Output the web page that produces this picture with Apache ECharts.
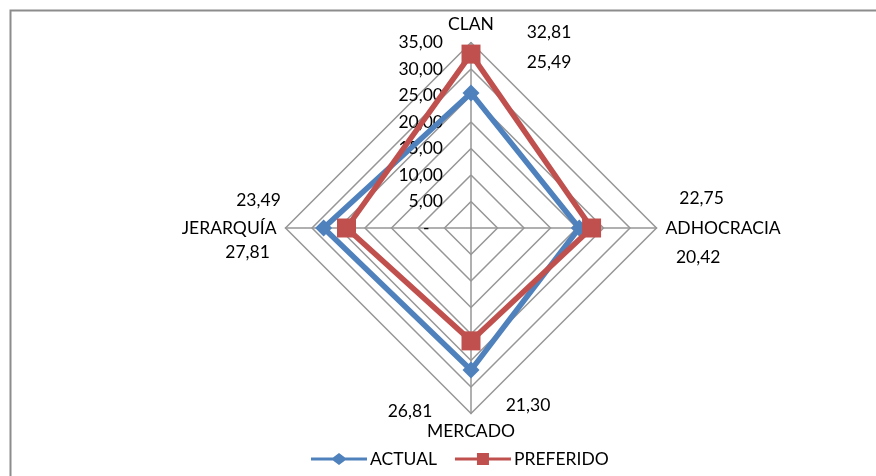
<!DOCTYPE html>
<html>
<head>
<meta charset="utf-8">
<script src="https://cdn.jsdelivr.net/npm/echarts@6/dist/echarts.min.js"></script>
<style>
  html, body { margin: 0; padding: 0; background: #fff; }
  #chart { width: 876px; height: 476px; }
</style>
</head>
<body>
<div id="chart"></div>
<script>
// Culture dimensions, listed in the order the radar lays them out
// (counter-clockwise from the top).
const categories = ['CLAN', 'JERARQUÍA', 'MERCADO', 'ADHOCRACIA'];
const actualValues = [25.49, 27.81, 26.81, 20.42];
const preferredValues = [32.81, 23.49, 21.30, 22.75];
const seriesNames = ['ACTUAL', 'PREFERIDO'];
const scaleMax = 35;
const scaleStep = 5;

// Where each value label sits relative to its vertex marker, in pixels.
const actualLabelOffsets = [[78, -31], [-76, 24], [-61, 41], [119, 29]];
const preferredLabelOffsets = [[78, -22], [-88, -28], [57, 64], [110, -30]];

const FONT = 'Lato, "Open Sans", sans-serif';
const FONT_SIZE = 17.5;
const BLUE = '#4F81BD';
const RED = '#C0504D';
const GRID = '#969696';

const fmt = v => v.toFixed(2).replace('.', ',');

// Legend glyphs: a short line with the series marker in the middle.
const iconDiamond = 'path://M0,4.5 H22 L28,0 L34,4.5 H56 V7.5 H34 L28,12 L22,7.5 H0 Z';
const iconSquare = 'path://M0,4.5 H22 V0 H34 V4.5 H56 V7.5 H34 V12 H22 V7.5 H0 Z';

const indicator = categories.map((name, i) => {
  const ind = { name: name, min: 0, max: scaleMax };
  if (i === 0) {
    ind.axisLabel = {
      show: true,
      margin: 28,
      color: '#000',
      fontSize: FONT_SIZE,
      fontFamily: FONT,
      formatter: v => (v === 0 ? '-   ' : fmt(v))
    };
  }
  return ind;
});

// One invisible copy of a series per value label, so each label can get its own offset.
function labelSeries(name, values, idx, offset) {
  const target = values[idx];
  return {
    type: 'radar',
    name: name + '-label-' + idx,
    silent: true,
    z: 5,
    symbol: 'circle',
    symbolSize: 1,
    lineStyle: { opacity: 0 },
    itemStyle: { color: 'rgba(0,0,0,0)' },
    label: {
      show: true,
      position: 'inside',
      offset: offset,
      color: '#000',
      fontSize: FONT_SIZE,
      fontFamily: FONT,
      formatter: p => (p.value === target ? fmt(target) : '')
    },
    data: [{ value: values }]
  };
}

const labelHelpers = [];
actualValues.forEach((v, i) => labelHelpers.push(labelSeries('ACTUAL', actualValues, i, actualLabelOffsets[i])));
preferredValues.forEach((v, i) => labelHelpers.push(labelSeries('PREFERIDO', preferredValues, i, preferredLabelOffsets[i])));

const chart = echarts.init(document.getElementById('chart'), null, { renderer: 'canvas' });
chart.setOption({
  animation: false,
  backgroundColor: '#fff',
  textStyle: { fontFamily: FONT },
  graphic: [{
    type: 'rect',
    left: 8, top: 8,
    shape: { width: 900, height: 500 },
    style: { fill: 'none', stroke: '#8c8c8c', lineWidth: 2 },
    silent: true
  }],
  legend: {
    bottom: 3,
    left: 306,
    itemWidth: 56,
    itemHeight: 12,
    itemGap: 18,
    textStyle: { color: '#000', fontSize: FONT_SIZE, fontFamily: FONT, padding: [0, 0, 0, -2] },
    data: [
      { name: seriesNames[0], icon: iconDiamond, itemStyle: { color: BLUE } },
      { name: seriesNames[1], icon: iconSquare, itemStyle: { color: RED } }
    ]
  },
  radar: {
    center: [471, 228],
    radius: 185.5,
    shape: 'polygon',
    splitNumber: scaleMax / scaleStep,
    indicator: indicator,
    nameGap: 9,
    axisName: { color: '#000', fontSize: FONT_SIZE, fontFamily: FONT },
    axisLabel: { show: false },
    axisTick: { show: false },
    axisLine: { lineStyle: { color: GRID, width: 1.5 } },
    splitLine: { lineStyle: { color: GRID, width: 1.5 } },
    splitArea: { show: false }
  },
  series: [
    {
      type: 'radar',
      name: seriesNames[0],
      z: 3,
      symbol: 'diamond',
      symbolSize: 17,
      lineStyle: { color: BLUE, width: 5.5 },
      itemStyle: { color: BLUE },
      data: [{ value: actualValues, name: seriesNames[0] }]
    },
    {
      type: 'radar',
      name: seriesNames[1],
      z: 4,
      symbol: 'rect',
      symbolSize: 19,
      lineStyle: { color: RED, width: 5.5 },
      itemStyle: { color: RED },
      data: [{ value: preferredValues, name: seriesNames[1] }]
    }
  ].concat(labelHelpers)
});
</script>
</body>
</html>
